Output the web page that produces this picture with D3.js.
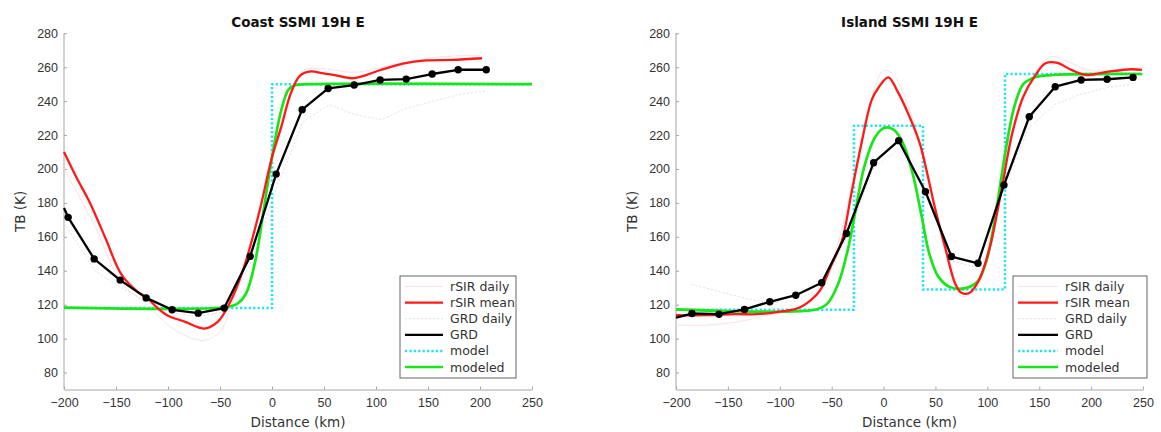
<!DOCTYPE html>
<html>
<head>
<meta charset="utf-8">
<script src="https://cdn.jsdelivr.net/npm/d3@7"></script>
<style>
  body { margin: 0; background: #fff; }
  svg { display: block; font-family: "DejaVu Sans", sans-serif; }
</style>
</head>
<body>
<div id="chart"></div>
<script>
// axis ticks
const xTicks = [-200, -150, -100, -50, 0, 50, 100, 150, 200, 250];
const yTicks = [80, 100, 120, 140, 160, 180, 200, 220, 240, 260, 280];
const legendLabels = ['rSIR daily', 'rSIR mean', 'GRD daily', 'GRD', 'model', 'modeled'];

// Coast panel  [distance km, TB K]
const coastRsirDaily = [[-200, 200], [-170, 166], [-145, 133], [-120, 120], [-100, 108], [-80, 101], [-65, 99], [-50, 104], [-40, 118], [-25, 146], [-10, 181], [0, 206], [15, 240], [30, 258], [50, 259], [80, 257], [120, 262], [160, 266], [200, 267]];
const coastRsirMean = [[-200, 210], [-188, 195], [-175, 180], [-160, 159], [-145, 138], [-130, 128], [-120, 124], [-110, 118], [-100, 113.5], [-84, 110], [-70, 106.5], [-64, 106], [-52, 110], [-41, 120.5], [-27, 142], [-12.5, 174], [0, 207], [9, 225], [18, 244.5], [27, 255], [37.5, 257.5], [48, 256.5], [59, 255.5], [77, 253.5], [91, 255.5], [105, 258.5], [127, 262.3], [148, 264], [173, 264.3], [202, 265.3]];
const coastGrdDaily = [[-200, 168], [-170, 140], [-145, 130], [-120, 122], [-95, 115], [-70, 113], [-45, 116], [-20, 145], [5, 190], [30, 228], [55, 238], [80, 232], [105, 229], [130, 236], [155, 240], [180, 244], [205, 246]];
const coastGrd = [[-200, 177], [-196, 171.5], [-171, 147], [-146, 134.5], [-121, 124], [-96, 117], [-71, 115], [-46, 118], [-21, 148.5], [4, 197], [29, 235], [54, 247.5], [79, 249.5], [104, 252.5], [129, 253], [154, 256], [179, 258.5], [206, 258.5]];
const coastModel = [[-200, 118], [0, 118], [0, 250], [250, 250]];
const coastModeled = [[-200, 118.3], [-45, 118.5], [-34, 120.3], [-25, 126.6], [-16, 146], [-9, 171.8], [0, 207], [9, 234.8], [16, 247], [23, 249.5], [34, 250], [250, 250]];

// Island panel
const islandRsirDaily = [[-200, 108], [-170, 108], [-140, 110], [-110, 114], [-80, 118], [-60, 130], [-40, 165], [-20, 220], [0, 258], [10, 255], [25, 235], [40, 200], [60, 150], [75, 125], [90, 130], [105, 170], [120, 215], [140, 250], [160, 266], [175, 264], [200, 258], [250, 260]];
const islandRsirMean = [[-200, 113.8], [-168, 113.8], [-143, 114.4], [-122, 114.4], [-101, 115.8], [-83, 117.8], [-70, 122.7], [-61, 128.6], [-51, 142.3], [-40, 158], [-31, 185.6], [-22, 213], [-11.4, 240.7], [-4.3, 248.5], [4.6, 254], [13.6, 245.6], [24.3, 231.8], [35, 215], [42, 197.7], [49.3, 177.7], [60, 152.2], [69, 132.5], [75, 127], [83, 127], [92, 134.5], [102.5, 154], [113, 185.6], [124, 221], [134.6, 242.6], [145.4, 254.4], [156, 262.3], [166.8, 262.7], [181, 258.4], [195.7, 255.4], [217, 257.4], [238.6, 258.8], [249, 258.4]];
const islandGrdDaily = [[-185, 132], [-160, 128], [-135, 124], [-110, 121], [-85, 122], [-60, 130], [-35, 160], [-10, 200], [15, 212], [40, 188], [65, 146], [90, 142], [115, 188], [140, 224], [165, 238], [190, 244], [215, 248], [240, 250]];
const islandGrd = [[-200, 112.4], [-184.6, 114.8], [-158.6, 114.4], [-134, 117.2], [-109.6, 121.7], [-84.6, 125.6], [-59.6, 132.9], [-35.7, 162], [-9.6, 203.7], [14.6, 216.7], [40.4, 186.6], [65.4, 148.4], [91, 144.4], [116, 190.5], [140.4, 230.8], [165.4, 248.5], [190.4, 252.5], [215.4, 252.9], [240.4, 254]];
const islandModel = [[-200, 117], [-28.5, 117], [-28.5, 225.5], [38, 225.5], [38, 129], [117, 129], [117, 256], [250, 256]];
const islandModeled = [[-200, 117.2], [-65, 117.2], [-54, 120.8], [-43.6, 132.5], [-34.6, 152], [-27.5, 173.8], [-18.6, 201.3], [-7.9, 219], [1, 224.3], [10, 223], [18.9, 215], [27.9, 197.7], [36.8, 171.8], [44, 150.2], [52.9, 136.4], [63.6, 130.5], [77.9, 129.6], [90.4, 133.5], [99.3, 146.2], [108.2, 173.8], [117.1, 209], [126, 236.7], [134.6, 250], [145.4, 254], [163, 255.4], [249, 256]];

const W = 1161, H = 432;
const svg = d3.select('#chart').append('svg')
  .attr('width', W)
  .attr('height', H);

const styles = {
  rsirDaily: { color: '#fae2e2', width: 1, dash: null },
  rsirMean: { color: '#ff1a1a', width: 2.3, dash: null },
  grdDaily: { color: '#dfe2e8', width: 1, dash: '2,2' },
  grd: { color: '#000000', width: 2.3, dash: null },
  model: { color: '#1ee3f5', width: 2.5, dash: '2.2,2.2' },
  modeled: { color: '#1ae41a', width: 2.7, dash: null }
};

function drawPanel(p) {
  const x = d3.scaleLinear().domain([-200, 250]).range(p.xRange);
  const y = d3.scaleLinear().domain([70, 280]).range([389.5, 33.3]);
  const g = svg.append('g');

  // axes
  const xAxis = g.append('g')
    .attr('transform', `translate(0,${y(70)})`)
    .call(d3.axisBottom(x).tickValues(xTicks).tickSizeInner(-3).tickSizeOuter(0).tickPadding(8.5));
  const yAxis = g.append('g')
    .attr('transform', `translate(${x(-200)},0)`)
    .call(d3.axisLeft(y).tickValues(yTicks).tickSizeInner(-3).tickSizeOuter(0).tickPadding(6));
  [xAxis, yAxis].forEach(a => {
    a.select('.domain').attr('stroke', '#a6a6a6').attr('stroke-width', 1);
    a.selectAll('.tick line').attr('stroke', '#a6a6a6');
    a.selectAll('.tick text').attr('fill', '#333').attr('font-size', 12.5);
  });
  // y axis goes up to 280
  yAxis.select('.domain').attr('d', `M0,${y(70)}V${y(280)}`);

  g.append('text')
    .attr('x', (p.xRange[0] + p.xRange[1]) / 2)
    .attr('y', 27)
    .attr('text-anchor', 'middle')
    .attr('font-weight', 'bold')
    .attr('font-size', 13.5)
    .attr('fill', '#111')
    .text(p.title);
  g.append('text')
    .attr('x', (p.xRange[0] + p.xRange[1]) / 2)
    .attr('y', 427)
    .attr('text-anchor', 'middle')
    .attr('font-size', 13.5)
    .attr('fill', '#333')
    .text('Distance (km)');
  g.append('text')
    .attr('transform', `translate(${p.xRange[0] - 39},${(y(70) + y(280)) / 2}) rotate(-90)`)
    .attr('text-anchor', 'middle')
    .attr('font-size', 13.5)
    .attr('fill', '#333')
    .text('TB (K)');

  const line = curve => d3.line().x(d => x(d[0])).y(d => y(d[1])).curve(curve);
  const series = [
    { key: 'rsirDaily', data: p.rsirDaily, curve: d3.curveCatmullRom },
    { key: 'grdDaily', data: p.grdDaily, curve: d3.curveLinear },
    { key: 'model', data: p.model, curve: d3.curveLinear },
    { key: 'modeled', data: p.modeled, curve: d3.curveCatmullRom },
    { key: 'rsirMean', data: p.rsirMean, curve: d3.curveCatmullRom },
    { key: 'grd', data: p.grd, curve: d3.curveLinear }
  ];
  series.forEach(s => {
    const st = styles[s.key];
    g.append('path')
      .datum(s.data)
      .attr('fill', 'none')
      .attr('stroke', st.color)
      .attr('stroke-width', st.width)
      .attr('stroke-dasharray', st.dash)
      .attr('stroke-linejoin', 'round')
      .attr('d', line(s.curve));
  });
  // GRD markers
  g.selectAll('.mk')
    .data(p.grd.slice(1))
    .join('circle')
    .attr('class', 'mk')
    .attr('cx', d => x(d[0]))
    .attr('cy', d => y(d[1]))
    .attr('r', 3.7)
    .attr('fill', '#000');

  // legend
  const lg = g.append('g').attr('transform', `translate(${p.legendX},276)`);
  lg.append('rect')
    .attr('width', p.legendW)
    .attr('height', 102)
    .attr('fill', '#fff')
    .attr('stroke', '#555')
    .attr('stroke-width', 0.9);
  const keys = ['rsirDaily', 'rsirMean', 'grdDaily', 'grd', 'model', 'modeled'];
  keys.forEach((k, i) => {
    const st = styles[k];
    const ry = 10.5 + i * 16.1;
    lg.append('line')
      .attr('x1', 5).attr('x2', 5 + p.legendLine)
      .attr('y1', ry).attr('y2', ry)
      .attr('stroke', st.color)
      .attr('stroke-width', st.width)
      .attr('stroke-dasharray', st.dash);
    lg.append('text')
      .attr('x', p.legendLine + 12)
      .attr('y', ry + 4.5)
      .attr('font-size', 12.5)
      .attr('fill', '#333')
      .text(legendLabels[i]);
  });
}

drawPanel({
  title: 'Coast SSMI 19H E',
  xRange: [64, 532],
  rsirDaily: coastRsirDaily, rsirMean: coastRsirMean,
  grdDaily: coastGrdDaily, grd: coastGrd,
  model: coastModel, modeled: coastModeled,
  legendX: 400, legendW: 116, legendLine: 38
});
drawPanel({
  title: 'Island SSMI 19H E',
  xRange: [676, 1143],
  rsirDaily: islandRsirDaily, rsirMean: islandRsirMean,
  grdDaily: islandGrdDaily, grd: islandGrd,
  model: islandModel, modeled: islandModeled,
  legendX: 1013, legendW: 134, legendLine: 40
});
</script>
</body>
</html>
